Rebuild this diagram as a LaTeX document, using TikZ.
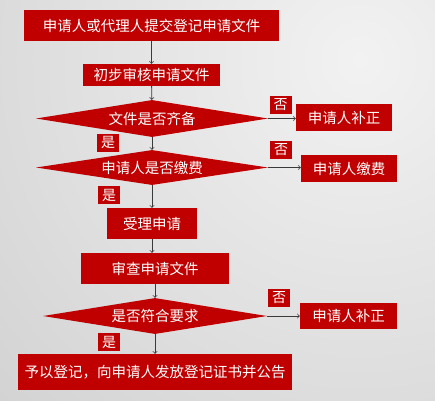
\documentclass[tikz,border=0pt]{standalone}
\usepackage{fontspec}
\setmainfont{Noto Sans CJK SC}
\usetikzlibrary{shapes.geometric}

\definecolor{boxred}{HTML}{C00000}
\definecolor{arrowgray}{HTML}{3A3A3A}
\definecolor{bgin}{HTML}{F2F2F2}
\definecolor{bgout}{HTML}{CFCFCF}

\begin{document}
\begin{tikzpicture}[x=1pt, y=-1pt]

%-------------------------------------------------
% Styles
%-------------------------------------------------
\tikzset{
  stepbox/.style={rectangle, fill=boxred, text=white, inner sep=0pt,
    font=\fontsize{14.5}{17}\selectfont},
  decide/.style={diamond, aspect=6, fill=boxred, text=white, inner sep=0pt,
    minimum width=232pt, minimum height=37pt, font=\fontsize{14.5}{17}\selectfont},
  tag/.style={rectangle, fill=boxred, text=white, inner sep=0pt,
    minimum width=22pt, minimum height=18pt, font=\fontsize{14}{16}\selectfont},
  flow/.style={->, >=to, draw=arrowgray, line width=0.8pt}
}

%-------------------------------------------------
% Background
%-------------------------------------------------
\useasboundingbox (0,0) rectangle (435,400);
\begin{scope}
  \clip (0,0) rectangle (435,400);
  \shade[inner color=bgin, outer color=bgout] (360,60) circle (560);
\end{scope}

%-------------------------------------------------
% Main column
%-------------------------------------------------
\node[stepbox, minimum width=255pt, minimum height=31pt] (submit) at (151.5,25.5) {申请人或代理人提交登记申请文件};
\node[stepbox, minimum width=137pt, minimum height=22pt] (prelim) at (151.5,75) {初步审核申请文件};
\node[decide] (complete) at (152,118.5) {文件是否齐备};
\node[decide, minimum height=35pt] (paid) at (152,167.5) {申请人是否缴费};
\node[stepbox, minimum width=90pt, minimum height=31pt] (accept) at (152,223.5) {受理申请};
\node[stepbox, minimum width=148pt, minimum height=31pt] (review) at (155,268.5) {审查申请文件};
\node[decide, minimum width=224pt, minimum height=36pt] (meets) at (155,316) {是否符合要求};
\node[stepbox, minimum width=274pt, minimum height=36pt] (register) at (155,372) {予以登记，向申请人发放登记证书并公告};

%-------------------------------------------------
% Side boxes
%-------------------------------------------------
\node[stepbox, minimum width=96pt, minimum height=27pt] (fix1) at (344,117.5) {申请人补正};
\node[stepbox, minimum width=96pt, minimum height=27pt] (payfee) at (349,168.5) {申请人缴费};
\node[stepbox, minimum width=97pt, minimum height=26pt] (fix2) at (348.5,316) {申请人补正};

%-------------------------------------------------
% Yes / no tags
%-------------------------------------------------
\node[tag] (no1) at (280.5,104.5) {否};
\node[tag] (no2) at (281,150) {否};
\node[tag] (no3) at (279,297.5) {否};
\node[tag] (yes1) at (108,142.5) {是};
\node[tag] (yes2) at (109,195) {是};
\node[tag] (yes3) at (109,342) {是};

%-------------------------------------------------
% Connectors
%-------------------------------------------------
\draw[flow] (submit) -- (prelim);
\draw[flow] (prelim) -- (complete);
\draw[flow] (complete) -- (paid);
\draw[flow] (paid) -- (accept);
\draw[flow] (accept.south) -- (accept.south |- review.north);
\draw[flow] (review) -- (meets);
\draw[flow] (meets) -- (register);

\draw[flow] (complete.east) -- (fix1.west |- complete.east);
\draw[flow] (paid.east) -- (payfee.west |- paid.east);
\draw[flow] (meets.east) -- (fix2.west);

\end{tikzpicture}
\end{document}
